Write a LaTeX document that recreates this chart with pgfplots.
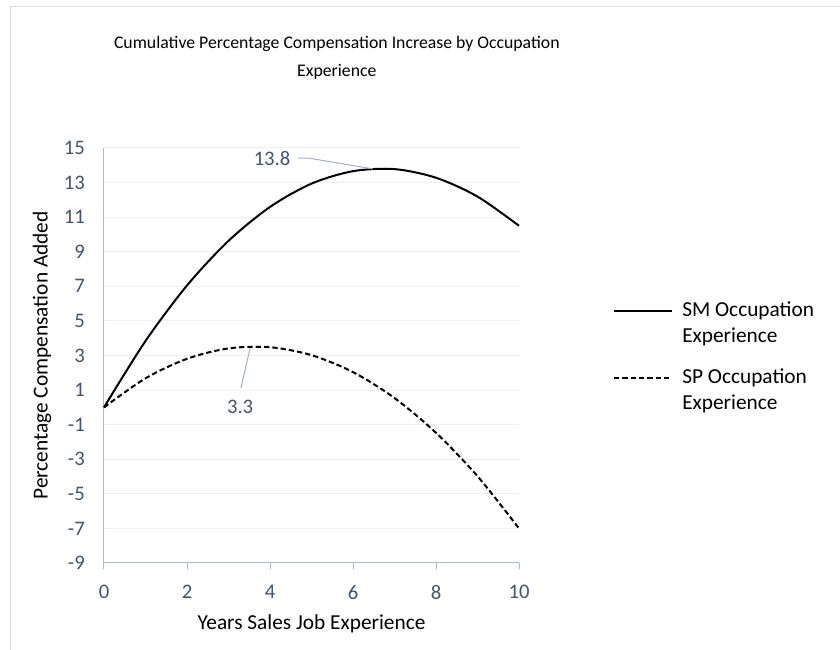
\documentclass[border=0pt]{standalone}
\usepackage{fontspec}
\setmainfont{Carlito}
\usepackage{pgfplots}
\pgfplotsset{compat=1.18}
\definecolor{tickcol}{RGB}{68,84,106}
\definecolor{axiscol}{RGB}{173,185,202}
\definecolor{gridcol}{RGB}{236,240,246}
\definecolor{leadcol}{RGB}{165,175,190}
\definecolor{framecol}{RGB}{217,217,217}

\begin{document}
\begin{tikzpicture}
\useasboundingbox (0,0) rectangle (630pt,487.5pt);
\draw[framecol, line width=0.75pt] (7.5pt,-5pt) -- (7.5pt,482.25pt) -- (640pt,482.25pt);
\begin{axis}[
    at={(78pt,65.25pt)},
    width=311.25pt, height=311.25pt, scale only axis,
    xmin=0, xmax=10, ymin=-9, ymax=15,
    xtick={0,2,...,10}, ytick={-9,-7,...,15},
    axis x line*=bottom, axis y line*=left,
    axis line style={draw=axiscol, line width=0.75pt, -},
    ymajorgrids, grid style={draw=gridcol, line width=0.75pt},
    tick align=outside, major tick length=4.5pt,
    xtick style={draw=axiscol, line width=0.75pt},
    ytick style={draw=none},
    ticklabel style={font=\fontsize{15.5}{18}\selectfont, text=tickcol, inner sep=0pt},
    xticklabel style={anchor=north, yshift=-12pt},
    yticklabel style={anchor=east, xshift=-9.75pt},
    /pgf/number format/assume math mode=true,
    title={Cumulative Percentage Compensation Increase by Occupation\\Experience},
    title style={at={(0.561,1.1976)}, anchor=center, align=center,
        font=\fontsize{13.3}{21}\selectfont},
    xlabel={Years Sales Job Experience},
    xlabel style={at={(0.5,-0.1466)}, anchor=center, font=\fontsize{16}{19}\selectfont},
    ylabel={Percentage Compensation Added},
    ylabel style={at={(-0.1494,0.5)}, anchor=center, font=\fontsize{16}{19}\selectfont},
    clip=false,
]
\addplot[black, line width=1.5pt, smooth] coordinates {
    (0,0)(1,3.84)(2,7.05)(3,9.63)(4,11.59)(5,12.94)(6,13.66)(7,13.78)(8,13.28)(9,12.19)(10,10.5)};
\addplot[black, line width=1.5pt, dash pattern=on 4pt off 2.25pt, smooth] coordinates {
    (0,0)(1,1.68)(2,2.81)(3,3.41)(4,3.48)(5,3.02)(6,2.04)(7,0.54)(8,-1.47)(9,-3.98)(10,-7.0)};
% data labels
\draw[leadcol, line width=0.75pt] (axis cs:4.67,14.42) -- (axis cs:4.92,14.42) -- (axis cs:6.48,13.79);
\node[text=tickcol, font=\fontsize{15.5}{18}\selectfont] at (axis cs:4.05,14.42) {13.8};
\draw[leadcol, line width=0.75pt] (axis cs:3.30,1.12) -- (axis cs:3.52,3.43);
\node[text=tickcol, font=\fontsize{15.5}{18}\selectfont] at (axis cs:3.28,0.02) {3.3};
\end{axis}
% legend
\draw[black, line width=1.5pt] (460.5pt,254.25pt) -- (504pt,254.25pt);
\draw[black, line width=1.5pt, dash pattern=on 4pt off 2.25pt] (460.5pt,204pt) -- (504pt,204pt);
\begin{scope}[every node/.style={anchor=west, inner sep=0pt, font=\fontsize{16}{19}\selectfont}]
\node at (511.5pt,254.25pt) {SM Occupation};
\node at (511.5pt,234.75pt) {Experience};
\node at (511.5pt,204pt) {SP Occupation};
\node at (511.5pt,184.5pt) {Experience};
\end{scope}
\end{tikzpicture}
\end{document}
